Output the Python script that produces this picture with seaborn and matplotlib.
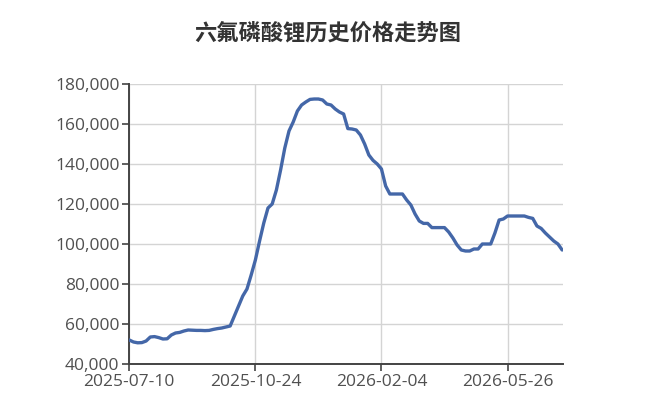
import matplotlib
matplotlib.use("Agg")
import matplotlib.pyplot as plt
import seaborn as sns
import numpy as np
import pandas as pd
from matplotlib.ticker import FuncFormatter

title = "六氟磷酸锂历史价格走势图"
tick_labels = ["2025-07-10", "2025-10-24", "2026-02-04", "2026-05-26"]
tick_every = 30
prices = [
    52000, 51000, 50600, 50700, 51500, 53500, 53700, 53200, 52500, 52600,
    54500, 55500, 55800, 56500, 57000, 56900, 56800, 56800, 56700, 56800,
    57300, 57700, 58000, 58500, 59000, 64000, 69000, 74000, 77500, 84500,
    92000, 101500, 110500, 118000, 120000, 127000, 137000, 148000, 156500, 161000,
    166500, 169500, 171000, 172300, 172500, 172500, 172000, 170000, 169500, 167500,
    166000, 165000, 157700, 157500, 157000, 154500, 150000, 144500, 141800, 140000,
    137500, 129000, 125000, 125000, 125000, 125000, 122000, 119500, 115000, 111500,
    110300, 110300, 108200, 108200, 108200, 108200, 106000, 103000, 99500, 97000,
    96500, 96500, 97500, 97500, 100000, 100000, 100000, 105500, 112000, 112500,
    114000, 114000, 114000, 114000, 114000, 113300, 112800, 109000, 107800, 105500,
    103500, 101500, 100000, 97000,
]
y_ticks = [40000, 60000, 80000, 100000, 120000, 140000, 160000, 180000]

df = pd.DataFrame({"idx": np.arange(len(prices)), "price": prices})

sns.set_style("white")
plt.rcParams["font.family"] = ["Open Sans", "Noto Sans CJK SC", "DejaVu Sans"]

fig = plt.figure(figsize=(6.5, 4.09), dpi=100)
ax = fig.add_axes([129.3 / 650, 1 - 364 / 409, (563 - 129.3) / 650, 280 / 409])

sns.lineplot(data=df, x="idx", y="price", ax=ax, color="#4467a8", linewidth=2.4, zorder=3)

ax.set_xlim(0, len(prices) - 0.8)
ax.set_ylim(y_ticks[0], y_ticks[-1])
ax.set_yticks(y_ticks)
ax.yaxis.set_major_formatter(FuncFormatter(lambda v, p: f"{int(v):,}"))
xt = [i * tick_every for i in range(len(tick_labels))]
ax.set_xticks(xt)
ax.set_xticklabels(tick_labels)

ax.grid(True, color="#d4d4d4", linewidth=1.0, zorder=0)
for s in ["top", "right"]:
    ax.spines[s].set_visible(False)
for s in ["left", "bottom"]:
    ax.spines[s].set_color("#444444")
    ax.spines[s].set_linewidth(1.4)
ax.tick_params(axis="both", direction="out", length=5, width=1.2, color="#444444",
               labelcolor="#505050", labelsize=12.5, pad=2, left=True, bottom=True)
ax.set_xlabel("")
ax.set_ylabel("")

fig.text(328 / 650, 1 - 33 / 409, title, ha="center", va="center", fontsize=16,
         fontweight="bold", color="#333333", family=["Noto Sans CJK SC", "DejaVu Sans"])

fig.savefig("out.png", dpi=100, facecolor="white")
